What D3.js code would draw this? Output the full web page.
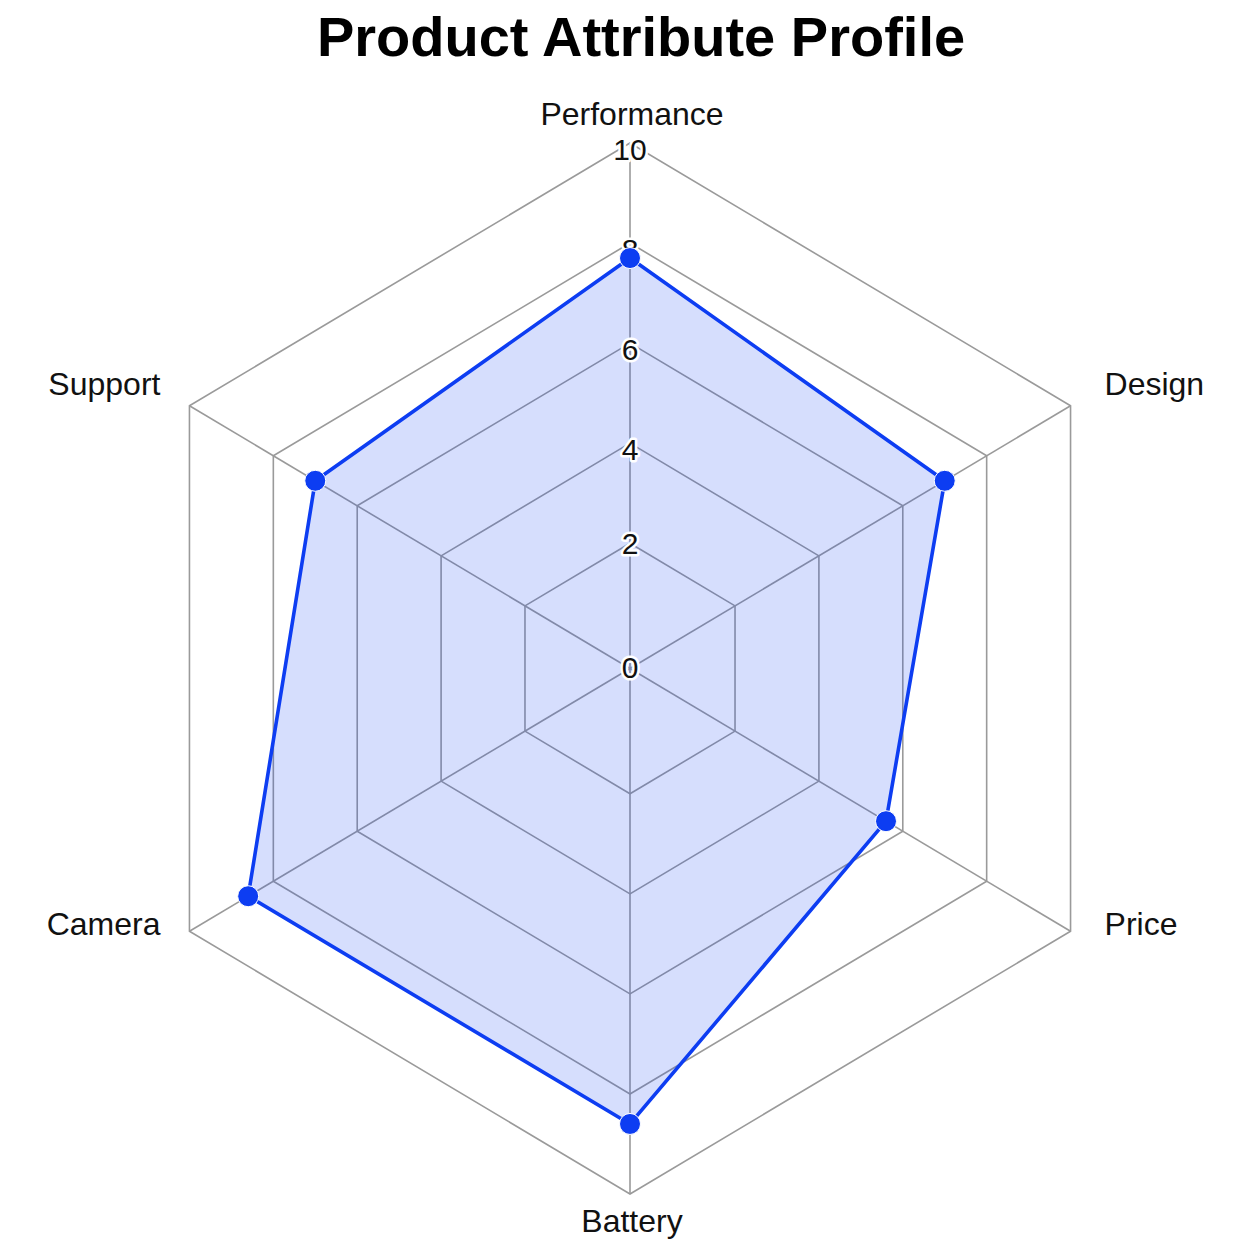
<!DOCTYPE html>
<html>
<head>
<meta charset="utf-8">
<script src="https://cdn.jsdelivr.net/npm/d3@7"></script>
<style>
  html, body { margin: 0; padding: 0; background: #ffffff; }
  svg { display: block; }
</style>
</head>
<body>
<svg id="chart" width="1254" height="1254"></svg>
<script>
// ---- data ----
const axesLabels = ["Performance", "Design", "Price", "Battery", "Camera", "Support"];
const seriesValues = [7.7, 7.0, 5.6, 8.6, 8.6, 7.0];
const tickValues = [0, 2, 4, 6, 8, 10];
const titleText = "Product Attribute Profile";

// ---- layout ----
const W = 1254, H = 1254;
const cx = 630, cy = 668.5, Rx = 508.7, Ry = 525.5;
const lineColor = "#0d3df2";
const gridColor = "#9a9a9a";
const font = "'Liberation Sans', Arial, Helvetica, sans-serif";

const svg = d3.select("#chart");

// radial scale (normalised), with a small inner offset as in the reference
const r = d3.scaleLinear().domain([0, 10]).range([0.048, 1]);
// planar scales
const x = d3.scaleLinear().domain([-1, 1]).range([cx - Rx, cx + Rx]);
const y = d3.scaleLinear().domain([-1, 1]).range([cy + Ry, cy - Ry]);
const n = axesLabels.length;
const ang = d3.scaleLinear().domain([0, n]).range([0, 2 * Math.PI]);

function pt(i, v) {
  const a = ang(i), rr = r(v);
  return [x(rr * Math.sin(a)), y(rr * Math.cos(a))];
}

// ---- grid rings ----
const gGrid = svg.append("g");
const ringTicks = tickValues.filter(t => t > 0);
const lineGen = d3.line();
gGrid.selectAll("path.ring")
  .data(ringTicks)
  .join("path")
  .attr("class", "ring")
  .attr("d", t => lineGen(d3.range(n).map(i => pt(i, t))) + "Z")
  .attr("fill", "none")
  .attr("stroke", gridColor)
  .attr("stroke-width", 1.6);

// spokes
gGrid.selectAll("line.spoke")
  .data(d3.range(n))
  .join("line")
  .attr("class", "spoke")
  .attr("x1", x(0)).attr("y1", y(0))
  .attr("x2", i => pt(i, 10)[0])
  .attr("y2", i => pt(i, 10)[1])
  .attr("stroke", gridColor)
  .attr("stroke-width", 1.6);

// ---- data fill ----
const dataPts = seriesValues.map((v, i) => pt(i, v));
svg.append("path")
  .attr("d", lineGen(dataPts) + "Z")
  .attr("fill", lineColor)
  .attr("fill-opacity", 0.17)
  .attr("stroke", "none");

// ---- tick labels ----
svg.append("g").selectAll("text")
  .data(tickValues)
  .join("text")
  .attr("x", cx)
  .attr("y", t => t === 0 ? cy - 1 : pt(0, t)[1] + (t === 2 ? 0 : 6))
  .attr("text-anchor", "middle")
  .attr("dominant-baseline", "central")
  .attr("font-family", font)
  .attr("font-size", 30)
  .attr("fill", "#111")
  .attr("stroke", "#ffffff")
  .attr("stroke-width", 5)
  .attr("stroke-linejoin", "round")
  .attr("paint-order", "stroke")
  .text(t => t);

// ---- data line & markers ----
svg.append("path")
  .attr("d", lineGen(dataPts) + "Z")
  .attr("fill", "none")
  .attr("stroke", lineColor)
  .attr("stroke-width", 3.6)
  .attr("stroke-linejoin", "round");

svg.append("g").selectAll("circle")
  .data(dataPts)
  .join("circle")
  .attr("cx", d => d[0])
  .attr("cy", d => d[1])
  .attr("r", 10.5)
  .attr("fill", lineColor)
  .attr("stroke", "#ffffff")
  .attr("stroke-width", 1);

// ---- axis labels ----
const gLab = svg.append("g")
  .attr("font-family", font)
  .attr("font-size", 32)
  .attr("fill", "#111");

axesLabels.forEach((lab, i) => {
  const [vx, vy] = pt(i, 10);
  const s = Math.sin(ang(i)), c = Math.cos(ang(i));
  let tx, ty, anchor;
  if (Math.abs(s) < 1e-6) {
    anchor = "middle";
    tx = vx + 2;
    ty = c > 0 ? vy - 18 : vy + 38;
  } else {
    anchor = s > 0 ? "start" : "end";
    tx = s > 0 ? vx + 34 : vx - 29;
    ty = c > 0 ? vy - 11 : vy + 4;
  }
  gLab.append("text")
    .attr("x", tx)
    .attr("y", ty)
    .attr("text-anchor", anchor)
    .text(lab);
});

// ---- title ----
svg.append("text")
  .attr("x", 641)
  .attr("y", 56)
  .attr("text-anchor", "middle")
  .attr("font-family", font)
  .attr("font-size", 56)
  .attr("font-weight", "bold")
  .attr("fill", "#000")
  .text(titleText);
</script>
</body>
</html>
